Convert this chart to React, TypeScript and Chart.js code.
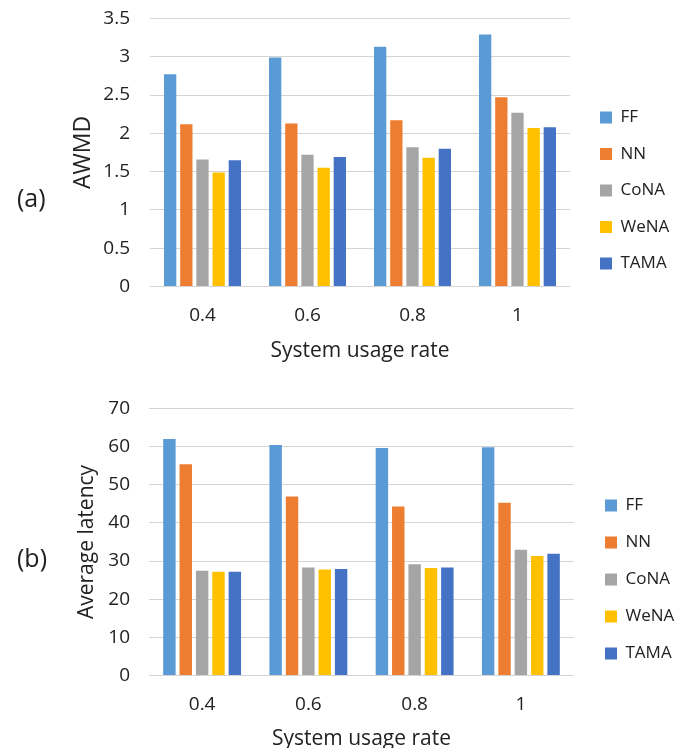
import React, { useEffect, useRef } from "react";
import { Chart, registerables } from "chart.js";

Chart.register(...registerables);

// ---------- data ----------
const categories = ["0.4", "0.6", "0.8", "1"];
const seriesNames = ["FF", "NN", "CoNA", "WeNA", "TAMA"];
const seriesColors = ["#5B9BD5", "#ED7D31", "#A5A5A5", "#FFC000", "#4472C4"];

// (a) AWMD
const awmdFF = [2.77, 2.99, 3.13, 3.29];
const awmdNN = [2.12, 2.13, 2.17, 2.47];
const awmdCoNA = [1.66, 1.72, 1.82, 2.27];
const awmdWeNA = [1.49, 1.55, 1.68, 2.07];
const awmdTAMA = [1.65, 1.69, 1.8, 2.08];

// (b) Average latency
const latFF = [62.0, 60.4, 59.6, 59.8];
const latNN = [55.4, 46.9, 44.3, 45.3];
const latCoNA = [27.5, 28.3, 29.2, 33.0];
const latWeNA = [27.2, 27.8, 28.2, 31.3];
const latTAMA = [27.2, 27.9, 28.3, 31.9];

const awmdTicks = { min: 0, max: 3.5, step: 0.5 };
const latTicks = { min: 0, max: 70, step: 10 };

const xTitle = "System usage rate";
const yTitleA = "AWMD";
const yTitleB = "Average latency";

// ---------- styling ----------
const FAMILY = '"Open Sans", sans-serif';
const TEXT = "#222222";
const GRID = "#D4D4D4";
const W = 692;
const TICK_SIZE = 19;
const XTITLE_SIZE = 21;
const LEGEND_SIZE = 17;

function measureMax(texts: string[], size: number) {
  const c = document.createElement("canvas");
  const ctx = c.getContext("2d")!;
  ctx.font = `${size}px ${FAMILY}`;
  return Math.max(...texts.map((t) => ctx.measureText(t).width));
}

type Cfg = {
  series: number[][];
  ticks: { min: number; max: number; step: number };
  yTitle: string;
  yTitleSize: number;
  yTitlePad: number;
  plotTop: number; // page coords
  plotBottom: number;
  plotLeft: number;
  tickPad: number;
  legendCenter: number;
  titleCenter: number;
  legendBoxX: number;
  legendPad: number;
  gapW: number;
};

function layoutOf(cfg: Cfg) {
  const labelHalf = (TICK_SIZE * 1.2) / 2;
  const canvasTop = cfg.plotTop - (labelHalf + cfg.tickPad);
  const height = 2 * (cfg.legendCenter - canvasTop);
  const xHeight = height - (cfg.plotBottom - canvasTop);
  const titlePadBottom = canvasTop + height - cfg.titleCenter - (XTITLE_SIZE * 1.2) / 2;
  return { canvasTop, height, xHeight, titlePadBottom };
}

function BarChart({ cfg }: { cfg: Cfg }) {
  const ref = useRef<HTMLCanvasElement>(null);
  const lay = layoutOf(cfg);
  useEffect(() => {
    const canvas = ref.current!;
    const boxW = 12;
    const maxText = measureMax(seriesNames, LEGEND_SIZE);
    const legendW = cfg.legendPad + boxW + LEGEND_SIZE / 2 + maxText + 10;
    const legendLeft = cfg.legendBoxX - cfg.legendPad;
    const padR = Math.max(0, W - legendLeft - legendW);
    const padL = 50;
    const chart = new Chart(canvas, {
      type: "bar",
      data: {
        labels: categories,
        datasets: seriesNames.map((name, i) => ({
          label: name,
          data: cfg.series[i],
          backgroundColor: seriesColors[i],
          borderWidth: 0,
          categoryPercentage: 0.77,
          barPercentage: 0.76,
        })),
      },
      options: {
        responsive: false,
        animation: false,
        layout: { padding: { left: padL, top: 0, right: padR, bottom: 0 } },
        plugins: {
          tooltip: { enabled: false },
          legend: {
            position: "right",
            align: "center",
            labels: {
              boxWidth: boxW,
              boxHeight: 12,
              padding: cfg.legendPad,
              color: TEXT,
              font: { family: FAMILY, size: LEGEND_SIZE },
            },
          },
        },
        scales: {
          x: {
            grid: { display: false, drawTicks: false },
            border: { display: false },
            ticks: { color: TEXT, font: { family: FAMILY, size: TICK_SIZE }, padding: 18 },
            title: {
              display: true,
              text: xTitle,
              color: TEXT,
              font: { family: FAMILY, size: XTITLE_SIZE },
              padding: { top: 0, bottom: lay.titlePadBottom },
            },
            afterFit: (s: any) => {
              s.height = lay.xHeight;
            },
          },
          y: {
            min: cfg.ticks.min,
            max: cfg.ticks.max,
            ticks: {
              stepSize: cfg.ticks.step,
              color: TEXT,
              font: { family: FAMILY, size: TICK_SIZE },
              padding: cfg.tickPad,
              callback: (v: any) => String(Number(v)),
            },
            grid: { color: GRID, lineWidth: 1, drawTicks: false },
            border: { display: false },
            title: {
              display: true,
              text: cfg.yTitle,
              color: TEXT,
              font: { family: FAMILY, size: cfg.yTitleSize },
              padding: { top: cfg.yTitlePad, bottom: 0 },
            },
            afterFit: (s: any) => {
              s.width = cfg.plotLeft - padL;
            },
          },
          gap: {
            type: "linear",
            position: "right",
            display: true,
            grid: { display: false, drawTicks: false },
            border: { display: false },
            ticks: { display: false },
            afterFit: (s: any) => {
              s.width = cfg.gapW;
            },
          },
        },
      } as any,
    });
    return () => chart.destroy();
  }, [cfg]);
  return (
    <div style={{ position: "absolute", left: 0, top: lay.canvasTop }}>
      <canvas
        ref={ref}
        width={W}
        height={Math.round(lay.height)}
        style={{ display: "block", width: W, height: Math.round(lay.height) }}
      />
    </div>
  );
}

const cfgA: Cfg = {
  series: [awmdFF, awmdNN, awmdCoNA, awmdWeNA, awmdTAMA],
  ticks: awmdTicks,
  yTitle: yTitleA,
  yTitleSize: 23,
  yTitlePad: 20,
  plotTop: 18,
  plotBottom: 286,
  plotLeft: 150,
  tickPad: 20,
  legendCenter: 190,
  titleCenter: 350,
  legendBoxX: 600,
  legendPad: 19.5,
  gapW: 10.5,
};

const cfgB: Cfg = {
  series: [latFF, latNN, latCoNA, latWeNA, latTAMA],
  ticks: latTicks,
  yTitle: yTitleB,
  yTitleSize: 21,
  yTitlePad: 24,
  plotTop: 408,
  plotBottom: 675,
  plotLeft: 149,
  tickPad: 19,
  legendCenter: 579,
  titleCenter: 738.5,
  legendBoxX: 605,
  legendPad: 20,
  gapW: 11,
};

const panelLabel: React.CSSProperties = {
  position: "absolute",
  left: 17,
  fontFamily: FAMILY,
  fontSize: 25,
  lineHeight: "30px",
  color: TEXT,
};

export default function App() {
  return (
    <div
      style={{
        position: "absolute",
        left: 0,
        top: 0,
        width: W,
        height: 748,
        overflow: "hidden",
        background: "#fff",
      }}
    >
      <BarChart cfg={cfgA} />
      <BarChart cfg={cfgB} />
      <div style={{ ...panelLabel, top: 182 }}>(a)</div>
      <div style={{ ...panelLabel, top: 542 }}>(b)</div>
    </div>
  );
}
